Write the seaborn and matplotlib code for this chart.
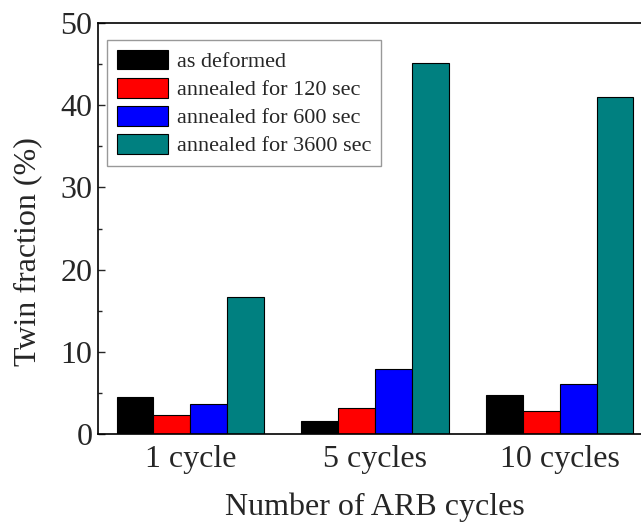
import matplotlib
matplotlib.use("Agg")
import matplotlib.pyplot as plt
import seaborn as sns
import pandas as pd
from matplotlib.ticker import MultipleLocator

categories = ["1 cycle", "5 cycles", "10 cycles"]
series_names = ["as deformed", "annealed for 120 sec", "annealed for 600 sec", "annealed for 3600 sec"]
as_deformed = [4.5, 1.6, 4.7]
annealed_120 = [2.3, 3.15, 2.85]
annealed_600 = [3.65, 7.9, 6.05]
annealed_3600 = [16.7, 45.1, 41.0]
colors = ["#000000", "#ff0000", "#0000ff", "#008080"]

rows = []
for name, vals in zip(series_names, [as_deformed, annealed_120, annealed_600, annealed_3600]):
    for c, v in zip(categories, vals):
        rows.append({"cycles": c, "series": name, "value": v})
df = pd.DataFrame(rows)

sns.set_style("ticks")
plt.rcParams["font.family"] = ["Liberation Serif", "DejaVu Serif"]

fig = plt.figure(figsize=(6.41, 5.26), dpi=100)
ax = fig.add_axes([0.153, 0.175, 0.864, 0.781])
sns.barplot(data=df, x="cycles", y="value", hue="series", order=categories,
            hue_order=series_names, palette=colors, width=0.8,
            edgecolor="black", linewidth=0.8, ax=ax, saturation=1)

ax.set_xlim(-0.5, 2.5)
ax.set_ylim(0, 50)
ax.yaxis.set_major_locator(MultipleLocator(10))
ax.yaxis.set_minor_locator(MultipleLocator(5))
ax.tick_params(axis="y", which="major", direction="in", length=5, width=1, labelsize=23, pad=4)
ax.tick_params(axis="y", which="minor", direction="in", length=3, width=1)
ax.tick_params(axis="x", length=0, labelsize=23, pad=8)
for s in ax.spines.values():
    s.set_linewidth(1.2)
    s.set_color("black")
ax.set_xlabel("Number of ARB cycles", fontsize=23, labelpad=13)
ax.set_ylabel("Twin fraction (%)", fontsize=23)
ax.yaxis.set_label_coords(-0.1, 0.445)

leg = ax.legend(loc="upper left", bbox_to_anchor=(0.016, 0.96), fontsize=16,
                frameon=True, fancybox=False, handlelength=2.3, handleheight=1.0,
                handletextpad=0.4, labelspacing=0.25, borderpad=0.45, borderaxespad=0)
leg.get_frame().set_edgecolor("#808080")
leg.get_frame().set_linewidth(1.0)

fig.savefig("out.png", dpi=100)
